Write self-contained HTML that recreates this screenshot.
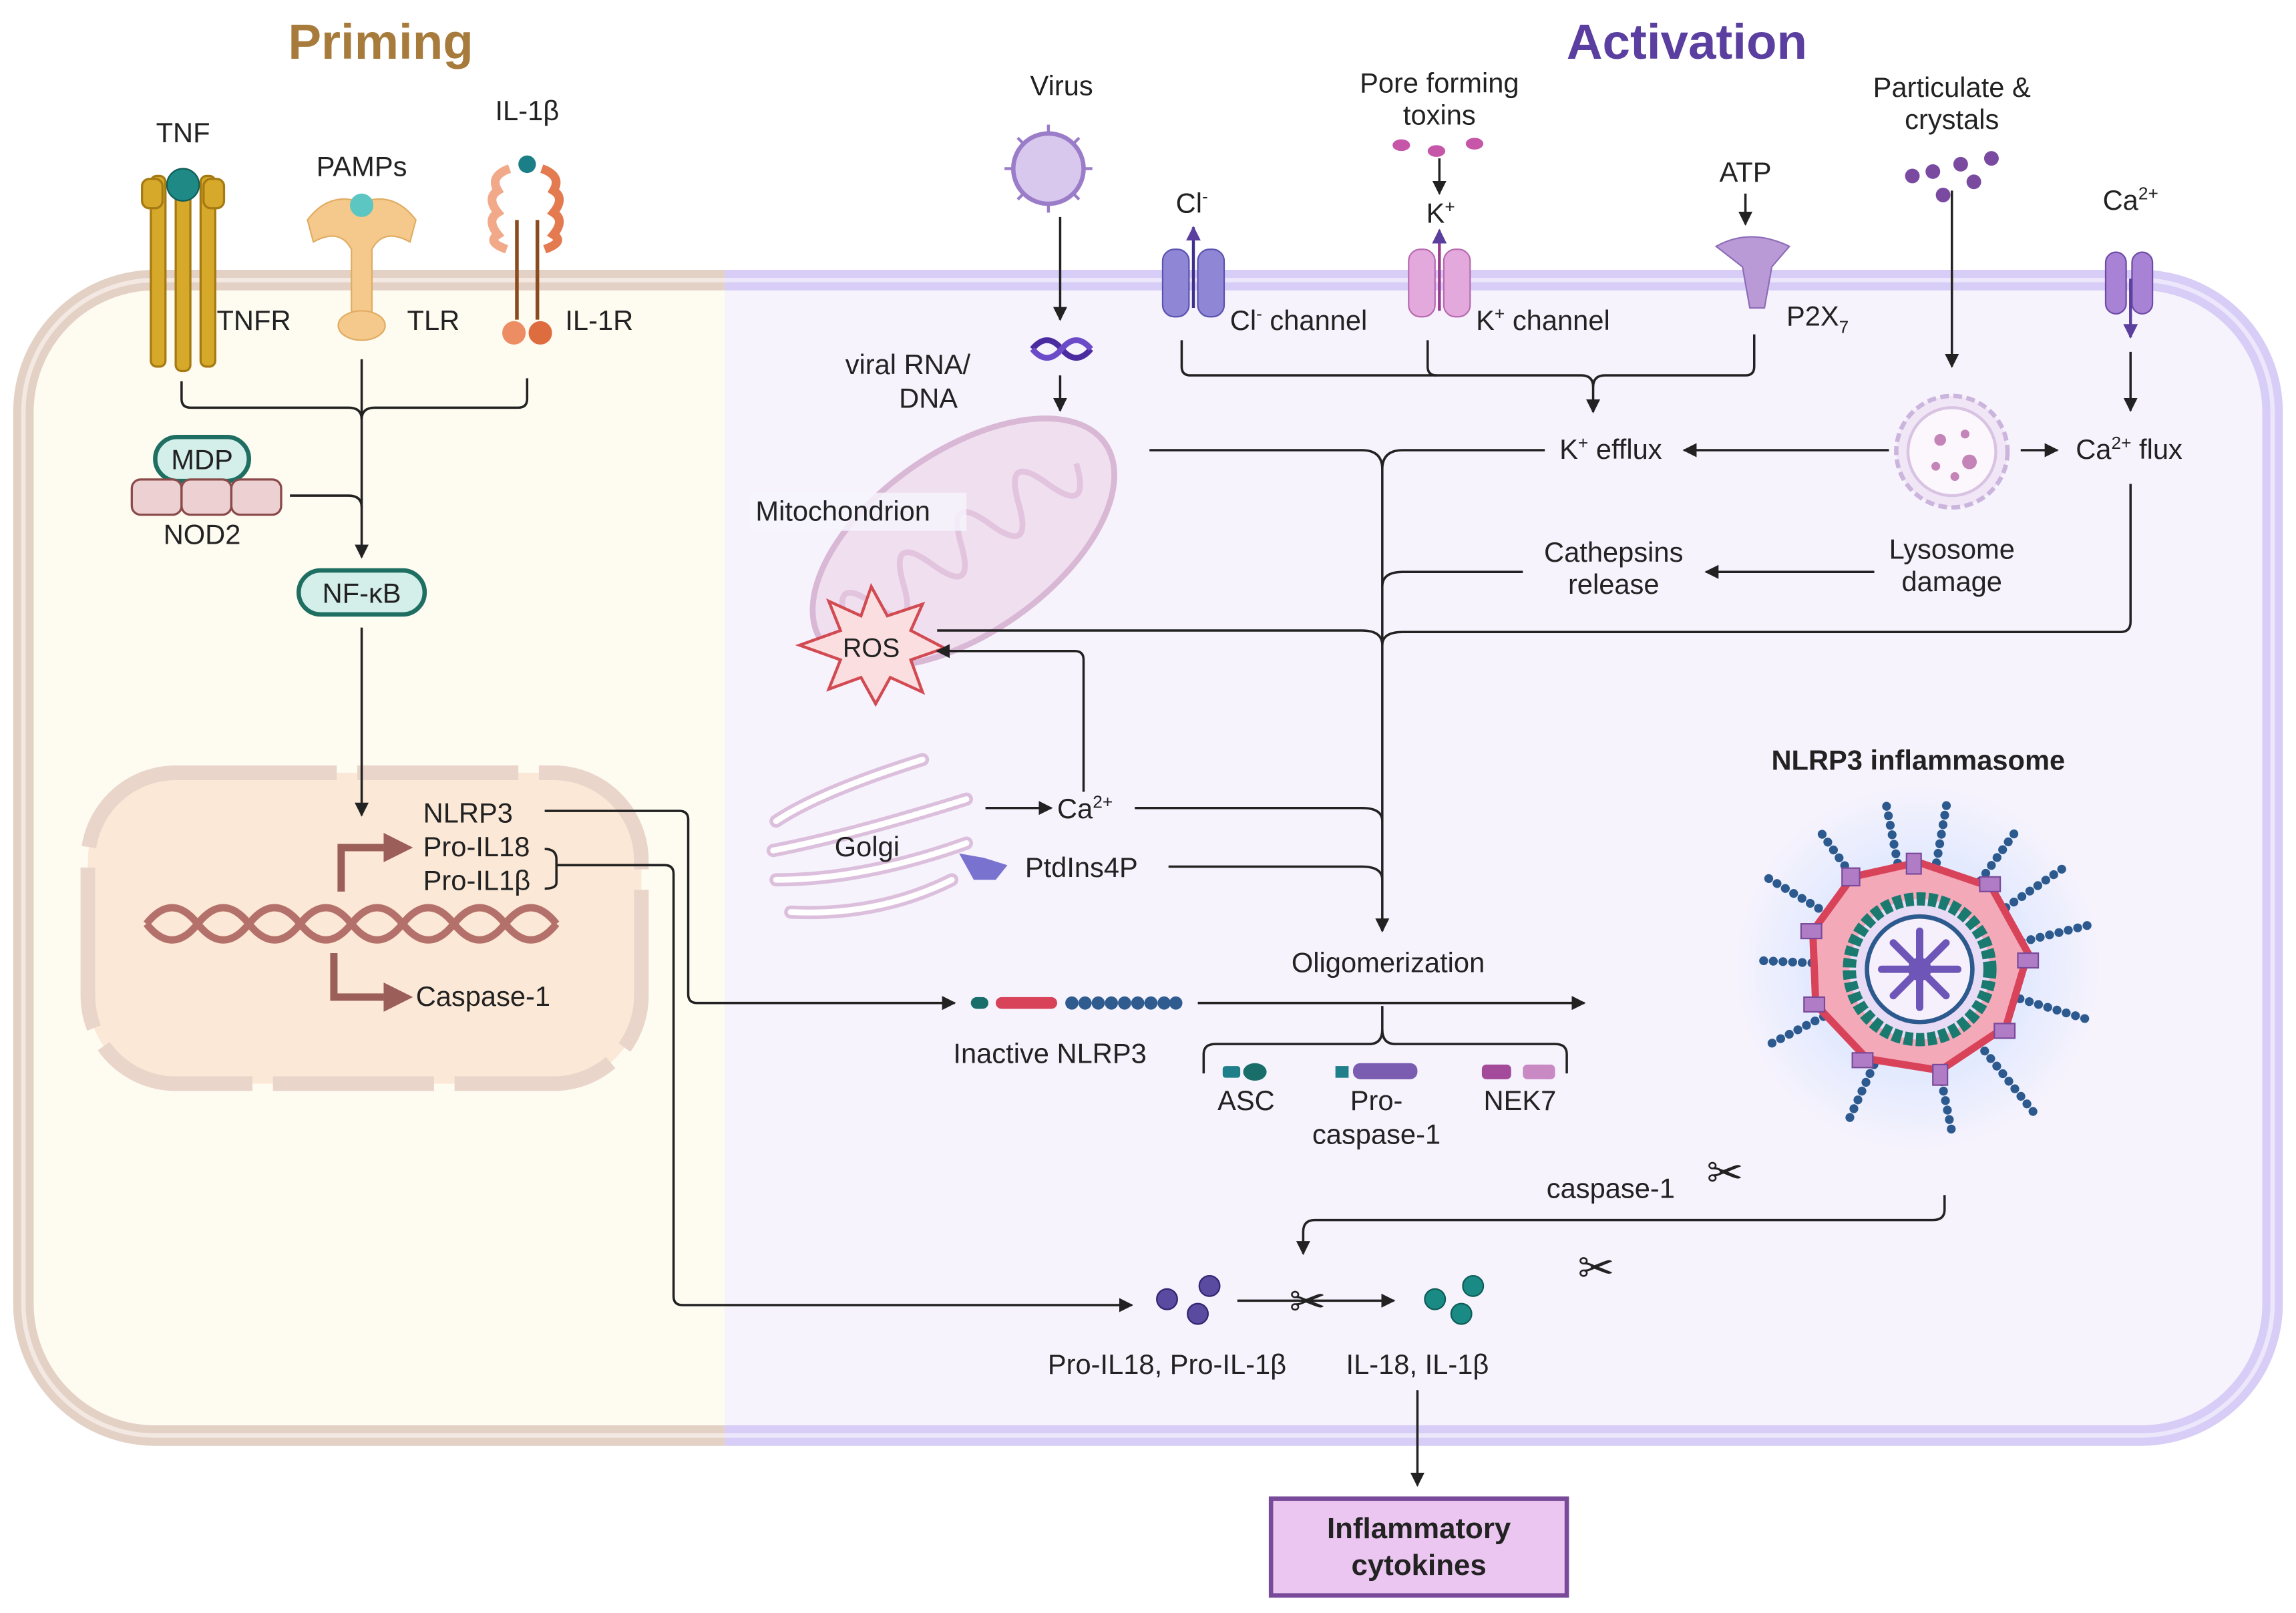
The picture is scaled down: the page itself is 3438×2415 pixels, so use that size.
<!DOCTYPE html>
<html><head><meta charset="utf-8"><style>
html,body{margin:0;padding:0;background:#fff}
svg{display:block}
text{font-family:"Liberation Sans",sans-serif;fill:#222}
</style></head><body>
<svg width="3438" height="2415" viewBox="0 0 1568 1100" preserveAspectRatio="none" xmlns="http://www.w3.org/2000/svg">
<defs>
<marker id="a" viewBox="0 0 10 10" refX="9" refY="5" markerWidth="6" markerHeight="6" orient="auto"><path d="M0,0L10,5L0,10z" fill="#222"/></marker>
<marker id="ap" viewBox="0 0 10 10" refX="9" refY="5" markerWidth="5" markerHeight="5" orient="auto"><path d="M0,0L10,5L0,10z" fill="#5b3f9e"/></marker>
<clipPath id="cl"><rect x="0" y="0" width="495" height="1100"/></clipPath>
<clipPath id="cr"><rect x="495" y="0" width="1100" height="1100"/></clipPath>
<radialGradient id="glow"><stop offset="0.6" stop-color="#cfe0ff" stop-opacity="0.8"/><stop offset="1" stop-color="#cfe0ff" stop-opacity="0"/></radialGradient>
</defs>

<!-- cell -->
<g clip-path="url(#cl)">
<rect x="16" y="191" width="1536" height="788" rx="90" fill="#fefbf1" stroke="#e4d1c6" stroke-width="14"/>
<rect x="16" y="191" width="1536" height="788" rx="90" fill="none" stroke="#f3e9e2" stroke-width="3"/>
</g>
<g clip-path="url(#cr)">
<rect x="16" y="191" width="1536" height="788" rx="90" fill="#f6f3fd" stroke="#d7cdf6" stroke-width="14"/>
<rect x="16" y="191" width="1536" height="788" rx="90" fill="none" stroke="#ece7fb" stroke-width="3"/>
</g>

<text x="260" y="40" font-size="34" font-weight="bold" text-anchor="middle" style="fill:#a77b3c">Priming</text>
<text x="1152" y="40" font-size="34" font-weight="bold" text-anchor="middle" style="fill:#5a3ea0">Activation</text>

<!-- nucleus -->
<rect x="60" y="527" width="378" height="212" rx="60" fill="#fbe8d6" stroke="#ead5cb" stroke-width="10" stroke-dasharray="110 14"/>
<g fill="none" stroke="#b4706a" stroke-width="5">
<path d="M100,630 q17.5,-22 35,0 t35,0 t35,0 t35,0 t35,0 t35,0 t35,0 t35,0"/>
<path d="M100,630 q17.5,22 35,0 t35,0 t35,0 t35,0 t35,0 t35,0 t35,0 t35,0"/>
</g>
<g fill="none" stroke="#9c5e58" stroke-width="5">
<path d="M233,608 V578 H262"/><path d="M228,650 V680 H262"/>
</g>
<path d="M262,568 L282,578 L262,588z" fill="#9c5e58"/><path d="M262,670 L282,680 L262,690z" fill="#9c5e58"/>
<text x="289" y="561" font-size="19">NLRP3</text>
<text x="289" y="584" font-size="19">Pro-IL18</text>
<text x="289" y="607" font-size="19">Pro-IL1β</text>
<text x="284" y="686" font-size="19">Caspase-1</text>

<!-- receptors -->
<text x="125" y="97" font-size="19" text-anchor="middle">TNF</text>
<g fill="#d7a92a" stroke="#a57a12" stroke-width="1.5">
<rect x="103" y="120" width="10" height="130" rx="4"/><rect x="120" y="118" width="10" height="135" rx="4"/><rect x="137" y="120" width="10" height="130" rx="4"/>
<rect x="97" y="122" width="14" height="20" rx="5"/><rect x="139" y="122" width="14" height="20" rx="5"/>
</g>
<circle cx="125" cy="126" r="11" fill="#1f8a85" stroke="#0e5c58"/>
<text x="148" y="225" font-size="19">TNFR</text>

<text x="247" y="120" font-size="19" text-anchor="middle">PAMPs</text>
<path d="M210,150 Q225,130 247,138 Q269,130 284,150 L280,165 Q262,155 254,170 L254,225 L240,225 L240,170 Q232,155 214,165z" fill="#f5c98b" stroke="#e0ac62"/>
<circle cx="247" cy="140" r="8" fill="#5cc6c2"/>
<ellipse cx="247" cy="222" rx="16" ry="10" fill="#f5c98b" stroke="#e0ac62"/>
<text x="278" y="225" font-size="19">TLR</text>

<text x="360" y="82" font-size="19" text-anchor="middle">IL-1β</text>
<path d="M348,115 q-14,5 -8,15 q-8,5 0,15 q-8,5 0,15 q-8,5 6,10" fill="none" stroke="#f2a98a" stroke-width="6"/>
<path d="M370,115 q14,5 8,15 q8,5 0,15 q8,5 0,15 q8,5 -6,10" fill="none" stroke="#e47a4f" stroke-width="6"/>
<circle cx="360" cy="112" r="6" fill="#1a7f86"/>
<line x1="353" y1="150" x2="353" y2="218" stroke="#8b4b1e" stroke-width="2.5"/><line x1="367" y1="150" x2="367" y2="218" stroke="#8b4b1e" stroke-width="2.5"/>
<circle cx="351" cy="227" r="8" fill="#ec8d63"/><circle cx="369" cy="227" r="8" fill="#dd6c3f"/>
<text x="386" y="225" font-size="19">IL-1R</text>

<!-- priming connectors -->
<g fill="none" stroke="#222" stroke-width="1.6">
<path d="M124,260 V272 Q124,278 130,278 H238 Q247,278 247,286"/>
<path d="M360,258 V272 Q360,278 354,278 H256 Q247,278 247,286"/>
<path d="M247,245 V380" marker-end="url(#a)"/>
<path d="M198,338 H238 Q247,338 247,346"/>
<path d="M247,428 V556" marker-end="url(#a)"/>
<path d="M372,553 H464 Q470,553 470,559 V678 Q470,684 476,684 H652" marker-end="url(#a)"/>
<path d="M372,579 Q380,579 380,586 V602 Q380,606 372,606"/>
<path d="M380,590 H454 Q460,590 460,596 V884 Q460,890 466,890 H773" marker-end="url(#a)"/>
</g>
<rect x="106" y="298" width="64" height="30" rx="15" fill="#d4eeea" stroke="#1e6f62" stroke-width="3"/>
<text x="138" y="320" font-size="19" text-anchor="middle">MDP</text>
<g fill="#ecd0d2" stroke="#8a4a4a" stroke-width="1.5">
<rect x="90" y="327" width="34" height="24" rx="6"/><rect x="124" y="327" width="34" height="24" rx="6"/><rect x="158" y="327" width="34" height="24" rx="6"/>
</g>
<text x="138" y="371" font-size="19" text-anchor="middle">NOD2</text>
<rect x="204" y="389" width="86" height="30" rx="15" fill="#d4eeea" stroke="#1e6f62" stroke-width="3"/>
<text x="247" y="411" font-size="19" text-anchor="middle">NF-κB</text>

<!-- activation top -->
<text x="725" y="65" font-size="19" text-anchor="middle">Virus</text>
<circle cx="716" cy="115" r="24" fill="#d8c8ee" stroke="#9b7cc9" stroke-width="3"/>
<g stroke="#9b7cc9" stroke-width="2">
<line x1="716" y1="85" x2="716" y2="91"/><line x1="716" y1="139" x2="716" y2="145"/><line x1="686" y1="115" x2="692" y2="115"/><line x1="740" y1="115" x2="746" y2="115"/>
<line x1="695" y1="94" x2="699" y2="98"/><line x1="737" y1="94" x2="733" y2="98"/><line x1="695" y1="136" x2="699" y2="132"/><line x1="737" y1="136" x2="733" y2="132"/>
</g>
<text x="983" y="63" font-size="19" text-anchor="middle">Pore forming</text>
<text x="983" y="85" font-size="19" text-anchor="middle">toxins</text>
<g fill="#c556a8"><ellipse cx="957" cy="99" rx="6" ry="4"/><ellipse cx="981" cy="103" rx="6" ry="4"/><ellipse cx="1007" cy="98" rx="6" ry="4"/></g>
<text x="1333" y="66" font-size="19" text-anchor="middle">Particulate &amp;</text>
<text x="1333" y="88" font-size="19" text-anchor="middle">crystals</text>
<g fill="#7a4aa0"><circle cx="1306" cy="120" r="5"/><circle cx="1320" cy="117" r="5"/><circle cx="1339" cy="112" r="5"/><circle cx="1360" cy="108" r="5"/><circle cx="1327" cy="133" r="5"/><circle cx="1348" cy="124" r="5"/></g>
<text x="1192" y="124" font-size="19" text-anchor="middle">ATP</text>
<text x="1455" y="143" font-size="19" text-anchor="middle">Ca<tspan font-size="12" dy="-7">2+</tspan></text>

<!-- channels -->
<g>
<rect x="794" y="170" width="18" height="46" rx="8" fill="#8f87d6" stroke="#5b52b0"/><rect x="818" y="170" width="18" height="46" rx="8" fill="#8f87d6" stroke="#5b52b0"/>
<line x1="815" y1="210" x2="815" y2="155" stroke="#3d2f8a" stroke-width="2" marker-end="url(#ap)"/>
<text x="803" y="145" font-size="19">Cl<tspan font-size="12" dy="-7">-</tspan></text>
<text x="840" y="225" font-size="19">Cl<tspan font-size="12" dy="-7">-</tspan><tspan dy="7"> channel</tspan></text>
<rect x="962" y="170" width="18" height="46" rx="8" fill="#e4a9dc" stroke="#b86ab0"/><rect x="986" y="170" width="18" height="46" rx="8" fill="#e4a9dc" stroke="#b86ab0"/>
<line x1="983" y1="212" x2="983" y2="157" stroke="#9b3c8e" stroke-width="2" marker-end="url(#ap)"/>
<text x="974" y="152" font-size="19">K<tspan font-size="12" dy="-7">+</tspan></text>
<line x1="983" y1="108" x2="983" y2="132" stroke="#222" stroke-width="1.6" marker-end="url(#a)"/>
<text x="1008" y="225" font-size="19">K<tspan font-size="12" dy="-7">+</tspan><tspan dy="7"> channel</tspan></text>
<path d="M1172,168 Q1195,155 1222,168 L1210,182 L1205,210 L1195,210 L1190,182z" fill="#b99ad6" stroke="#8d6cb8"/>
<line x1="1192" y1="132" x2="1192" y2="153" stroke="#222" stroke-width="1.6" marker-end="url(#a)"/>
<text x="1220" y="222" font-size="19">P2X<tspan font-size="12" dy="5">7</tspan></text>
<rect x="1438" y="172" width="14" height="42" rx="7" fill="#a882d4" stroke="#6e4aa8"/><rect x="1456" y="172" width="14" height="42" rx="7" fill="#a882d4" stroke="#6e4aa8"/>
<line x1="1455" y1="190" x2="1455" y2="230" stroke="#5b3f9e" stroke-width="2" marker-end="url(#ap)"/>
</g>

<!-- mitochondrion -->
<g transform="rotate(-35 658 370)">
<ellipse cx="658" cy="370" rx="118" ry="62" fill="#f0e0ef" stroke="#d9b8d6" stroke-width="4"/>
<path d="M560,370 q12,-35 24,0 t24,0 t24,0 t24,0 t24,0 t24,0 t24,0 t24,0" fill="none" stroke="#e3c4df" stroke-width="4"/>
</g>
<rect x="512" y="336" width="148" height="26" fill="#f6f3fd" opacity="0.85"/>
<text x="516" y="355" font-size="19">Mitochondrion</text>

<!-- golgi -->
<g fill="none" stroke="#dcbfdc" stroke-width="9" stroke-linecap="round">
<path d="M530,560 Q560,540 630,518"/><path d="M528,580 Q580,570 660,545"/><path d="M530,600 Q590,600 660,575"/><path d="M540,622 Q600,625 650,600"/>
</g>
<g fill="none" stroke="#fff" stroke-width="4" stroke-linecap="round">
<path d="M530,560 Q560,540 630,518"/><path d="M528,580 Q580,570 660,545"/><path d="M530,600 Q590,600 660,575"/><path d="M540,622 Q600,625 650,600"/>
</g>
<text x="570" y="584" font-size="19">Golgi</text>
<path d="M655,582 L672,585 L688,590 L680,600 L665,600z" fill="#7a72cf"/>

<!-- activation connectors -->
<g fill="none" stroke="#222" stroke-width="1.6">
<path d="M724,148 V218" marker-end="url(#a)"/>
<path d="M724,256 V280" marker-end="url(#a)"/>
<path d="M807,232 V250 Q807,256 813,256 H1080 Q1088,256 1088,264 V281" marker-end="url(#a)"/>
<path d="M975,232 V250 Q975,256 981,256"/>
<path d="M1198,228 V250 Q1198,256 1192,256 H1096 Q1088,256 1088,264"/>
<path d="M1333,130 V250" marker-end="url(#a)"/>
<path d="M1455,240 V280" marker-end="url(#a)"/>
<path d="M1290,307 H1150" marker-end="url(#a)"/>
<path d="M1380,307 H1405" marker-end="url(#a)"/>
<path d="M1280,390 H1165" marker-end="url(#a)"/>
<path d="M785,307 H930 Q944,307 944,320 V635" marker-end="url(#a)"/>
<path d="M1055,307 H958 Q944,307 944,320"/>
<path d="M1040,390 H958 Q944,390 944,400"/>
<path d="M640,430 H930 Q944,430 944,440"/>
<path d="M1455,330 V424 Q1455,431 1448,431 H958 Q944,431 944,440"/>
<path d="M775,551 H930 Q944,551 944,560"/>
<path d="M798,591 H930 Q944,591 944,600"/>
<path d="M673,551 H718" marker-end="url(#a)"/>
<path d="M818,684 H1082" marker-end="url(#a)"/>
<path d="M822,732 V719 Q822,712 830,712 H935 Q944,712 944,702 V686"/>
<path d="M1070,732 V719 Q1070,712 1062,712 H953 Q944,712 944,702"/>
<path d="M1328,815 V825 Q1328,832 1320,832 H898 Q890,832 890,840 V855" marker-end="url(#a)"/>
<path d="M845,887 H952" marker-end="url(#a)"/>
<path d="M968,948 V1013" marker-end="url(#a)"/>
</g>

<path d="M595,400 L606,420 L630,412 L622,430 L645,442 L622,450 L630,472 L608,462 L598,480 L588,462 L566,470 L574,450 L546,440 L574,430 L566,410 L588,420z" fill="#fbdfe0" stroke="#d24a52" stroke-width="2"/>
<text x="595" y="448" font-size="18" text-anchor="middle">ROS</text>
<path d="M740,540 V450 Q740,444 734,444 H640" fill="none" stroke="#222" stroke-width="1.6" marker-end="url(#a)"/>

<text x="722" y="558" font-size="19">Ca<tspan font-size="12" dy="-7">2+</tspan></text>
<text x="700" y="598" font-size="19">PtdIns4P</text>

<!-- viral RNA -->
<path d="M705,238 q10,-12 20,0 t20,0" fill="none" stroke="#4a2ba0" stroke-width="4"/>
<path d="M705,238 q10,12 20,0 t20,0" fill="none" stroke="#6b4bc8" stroke-width="4"/>
<text x="620" y="255" font-size="19" text-anchor="middle">viral RNA/</text>
<text x="634" y="278" font-size="19" text-anchor="middle">DNA</text>

<!-- lysosome -->
<circle cx="1333" cy="308" r="38" fill="#f0e6f6" stroke="#cbb5dd" stroke-width="3" stroke-dasharray="6 3"/>
<circle cx="1333" cy="308" r="30" fill="#fbf7fd" stroke="#d9c3e3" stroke-width="2"/>
<g fill="#c484b8"><circle cx="1325" cy="300" r="4"/><circle cx="1342" cy="296" r="3"/><circle cx="1345" cy="315" r="5"/><circle cx="1322" cy="318" r="3"/><circle cx="1335" cy="325" r="3"/></g>
<text x="1100" y="313" font-size="19" text-anchor="middle">K<tspan font-size="12" dy="-7">+</tspan><tspan dy="7"> efflux</tspan></text>
<text x="1454" y="313" font-size="19" text-anchor="middle">Ca<tspan font-size="12" dy="-7">2+</tspan><tspan dy="7"> flux</tspan></text>
<text x="1333" y="381" font-size="19" text-anchor="middle">Lysosome</text>
<text x="1333" y="403" font-size="19" text-anchor="middle">damage</text>
<text x="1102" y="383" font-size="19" text-anchor="middle">Cathepsins</text>
<text x="1102" y="405" font-size="19" text-anchor="middle">release</text>
<text x="948" y="663" font-size="19" text-anchor="middle">Oligomerization</text>

<!-- inactive NLRP3 -->
<rect x="663" y="680" width="12" height="8" rx="4" fill="#1a6e6a"/>
<rect x="680" y="680" width="42" height="8" rx="4" fill="#d9435a"/>
<g fill="#2f5b8f"><circle cx="732" cy="684" r="4.5"/><circle cx="741" cy="684" r="4.5"/><circle cx="750" cy="684" r="4.5"/><circle cx="759" cy="684" r="4.5"/><circle cx="768" cy="684" r="4.5"/><circle cx="777" cy="684" r="4.5"/><circle cx="786" cy="684" r="4.5"/><circle cx="795" cy="684" r="4.5"/><circle cx="803" cy="684" r="4.5"/></g>
<text x="717" y="725" font-size="19" text-anchor="middle">Inactive NLRP3</text>
<rect x="835" y="727" width="12" height="8" rx="2" fill="#1f7f8a"/><ellipse cx="857" cy="731" rx="8" ry="6" fill="#1a6e6a"/>
<text x="851" y="757" font-size="19" text-anchor="middle">ASC</text>
<rect x="912" y="727" width="9" height="8" fill="#1f7f8a"/><rect x="924" y="725" width="44" height="11" rx="5" fill="#7a5cb0"/>
<text x="940" y="757" font-size="19" text-anchor="middle">Pro-</text>
<text x="940" y="780" font-size="19" text-anchor="middle">caspase-1</text>
<rect x="1012" y="726" width="20" height="10" rx="3" fill="#a34a9a"/><rect x="1040" y="726" width="22" height="10" rx="3" fill="#c98ac4"/>
<text x="1038" y="757" font-size="19" text-anchor="middle">NEK7</text>

<!-- inflammasome -->
<text x="1310" y="525" font-size="19" font-weight="bold" text-anchor="middle">NLRP3 inflammasome</text>
<circle cx="1310" cy="660" r="125" fill="url(#glow)" opacity="0.6"/>
<g stroke="#2d5a8e" stroke-width="6" stroke-dasharray="0.1 6.5" stroke-linecap="round">
<line x1="1310" y1="660" x2="1330" y2="545"/><line x1="1310" y1="660" x2="1412" y2="590"/>
<line x1="1310" y1="660" x2="1430" y2="630"/><line x1="1310" y1="660" x2="1425" y2="695"/>
<line x1="1310" y1="660" x2="1390" y2="760"/><line x1="1310" y1="660" x2="1333" y2="772"/>
<line x1="1310" y1="660" x2="1262" y2="765"/><line x1="1310" y1="660" x2="1207" y2="713"/>
<line x1="1310" y1="660" x2="1200" y2="655"/><line x1="1310" y1="660" x2="1206" y2="598"/>
<line x1="1310" y1="660" x2="1243" y2="567"/><line x1="1310" y1="660" x2="1288" y2="548"/>
<line x1="1310" y1="660" x2="1378" y2="565"/>
</g>
<polygon points="1310,588 1360,605 1385,650 1370,700 1325,730 1275,722 1240,685 1238,635 1265,598" fill="#f3a9b8" stroke="#d9435a" stroke-width="5"/>
<g fill="#b07cc6" stroke="#7a4a9a" stroke-width="1">
<rect x="1302" y="582" width="10" height="14"/><rect x="1352" y="598" width="14" height="10"/><rect x="1378" y="650" width="14" height="10"/><rect x="1362" y="698" width="14" height="10"/><rect x="1320" y="726" width="10" height="14"/><rect x="1265" y="718" width="14" height="10"/><rect x="1232" y="680" width="14" height="10"/><rect x="1230" y="630" width="14" height="10"/><rect x="1258" y="592" width="12" height="12"/>
</g>
<circle cx="1311" cy="661" r="48" fill="#e8dbf5" stroke="#1a7a70" stroke-width="9" stroke-dasharray="6 2"/>
<circle cx="1311" cy="661" r="36" fill="#f5f0fc" stroke="#2d5a8e" stroke-width="3"/>
<g stroke="#6e56b8" stroke-width="5" stroke-linecap="round">
<line x1="1311" y1="635" x2="1311" y2="687"/><line x1="1285" y1="661" x2="1337" y2="661"/><line x1="1293" y1="643" x2="1329" y2="679"/><line x1="1329" y1="643" x2="1293" y2="679"/>
</g>
<circle cx="1311" cy="661" r="8" fill="#6e56b8"/>

<!-- scissors & cytokines -->
<text x="1100" y="817" font-size="19" text-anchor="middle">caspase-1</text>
<text x="1178" y="810" font-size="30" text-anchor="middle">✂</text>
<text x="1090" y="875" font-size="30" text-anchor="middle">✂</text>
<text x="893" y="898" font-size="30" text-anchor="middle">✂</text>
<g fill="#5a4aa0" stroke="#2f2570"><circle cx="797" cy="886" r="7"/><circle cx="826" cy="877" r="7"/><circle cx="818" cy="896" r="7"/></g>
<g fill="#1a8a85" stroke="#0e5c58"><circle cx="980" cy="886" r="7"/><circle cx="1006" cy="877" r="7"/><circle cx="998" cy="896" r="7"/></g>
<text x="797" y="937" font-size="19" text-anchor="middle">Pro-IL18, Pro-IL-1β</text>
<text x="968" y="937" font-size="19" text-anchor="middle">IL-18, IL-1β</text>
<rect x="868" y="1022" width="202" height="66" fill="#eac6f0" stroke="#7a4a9a" stroke-width="3"/>
<text x="969" y="1049" font-size="20" font-weight="bold" text-anchor="middle">Inflammatory</text>
<text x="969" y="1074" font-size="20" font-weight="bold" text-anchor="middle">cytokines</text>
</svg>
</body></html>
